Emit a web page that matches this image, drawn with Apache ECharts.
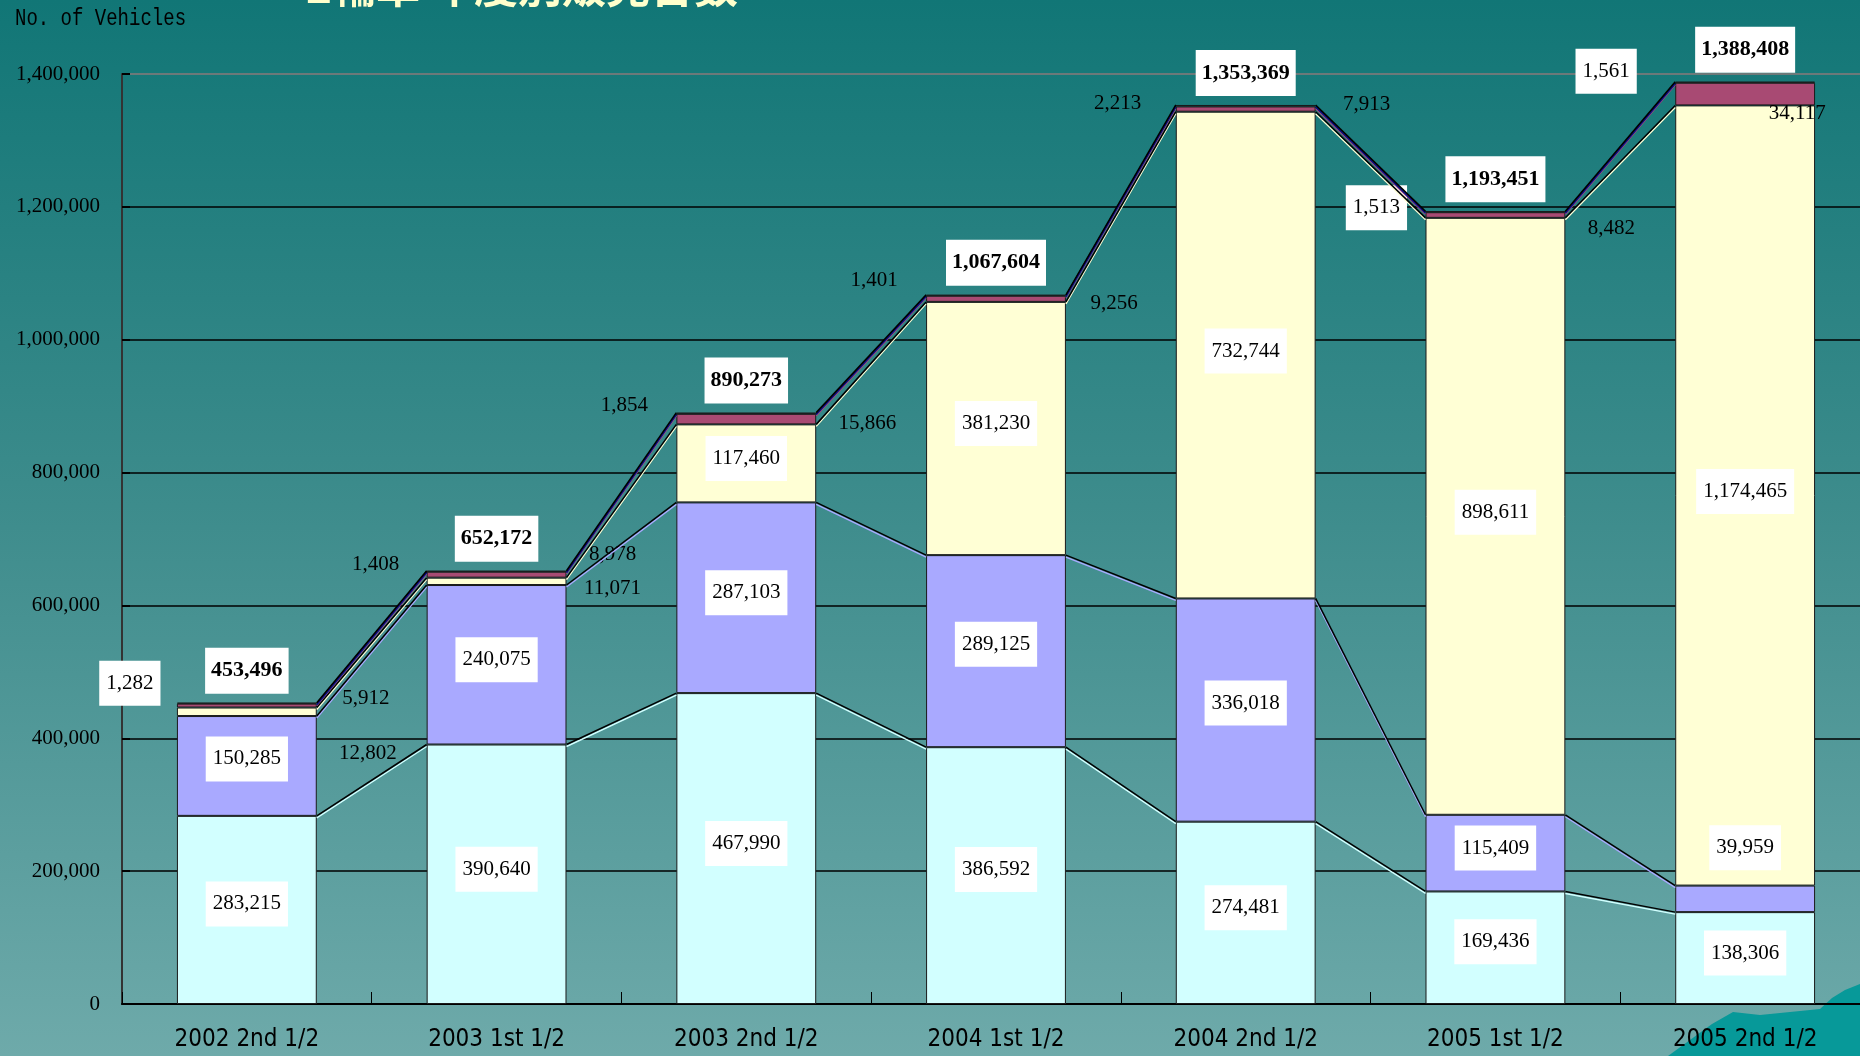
<!DOCTYPE html>
<html>
<head>
<meta charset="utf-8">
<title>No. of Vehicles</title>
<script src="https://cdn.jsdelivr.net/npm/echarts@6/dist/echarts.min.js"></script>
<style>
  html, body { margin: 0; padding: 0; overflow: hidden; }
  /* the plot runs past the right edge of the slide, as in the original */
  #chart { width: 1872px; height: 1056px; }
</style>
</head>
<body>
<div id="chart"></div>
<script>
  // categories (half years)
  const categories = ['2002 2nd 1/2', '2003 1st 1/2', '2003 2nd 1/2', '2004 1st 1/2', '2004 2nd 1/2', '2005 1st 1/2', '2005 2nd 1/2'];

  // stacked series, bottom to top
  const seriesA = [283215, 390640, 467990, 386592, 274481, 169436, 138306];
  const seriesB = [150285, 240075, 287103, 289125, 336018, 115409, 39959];
  const seriesC = [12802, 11071, 117460, 381230, 732744, 898611, 1174465];
  const seriesD = [5912, 8978, 15866, 9256, 7913, 8482, 34117];
  const seriesE = [1282, 1408, 1854, 1401, 2213, 1513, 1561];

  // totals printed above each column
  const totals = [453496, 652172, 890273, 1067604, 1353369, 1193451, 1388408];

  // y axis ticks
  const yMin = 0;
  const yMax = 1400000;
  const yStep = 200000;

  const stackData = [seriesA, seriesB, seriesC, seriesD, seriesE];
  const colors = ['#d2ffff', '#a9a9ff', '#ffffd5', '#a84a73', '#08108a'];

  // label placement: [dx, dy, whiteBox] relative to the segment centre
  const labelPlace = [
    [[0, -6, 1], [0, -5, 1], [0, -5, 1], [0, -6, 1], [0, -5, 1], [0, -6, 1], [0, -5, 1]],
    [[0, -7, 1], [0, -5, 1], [0, -5, 1], [0, -7, 1], [0, -7, 1], [0, -5, 1], [0, -51, 1]],
    [[121, 42, 0], [116, 7, 0], [0, -5, 1], [0, -5, 1], [0, -4, 1], [0, -4, 1], [0, -4, 1]],
    [[119, -7, 0], [116, -20, 0], [121, 4, 0], [118, 5, 0], [121, -5, 0], [116, 13, 0], [52, 19, 0]],
    [[-117, -20, 1], [-121, -7, 0], [-122, -8, 0], [-122, -15, 0], [-128, -2, 0], [-119, -4, 1], [-139, -11, 1]]
  ];

  const fmt = v => Number(v).toLocaleString('en-US');
  const BAR_RATIO = 0.56;

  let chart = echarts.init(document.getElementById('chart'));

  // bar series
  let barSeries = stackData.map((arr, si) => ({
    name: 's' + si,
    type: 'bar',
    stack: 'total',
    barWidth: (BAR_RATIO * 100) + '%',
    itemStyle: { color: colors[si], borderColor: '#1a1a1a', borderWidth: 1 },
    emphasis: { disabled: true },
    data: arr.map((v, ci) => {
      const p = labelPlace[si][ci];
      return {
        value: v,
        label: {
          show: true,
          position: 'inside',
          offset: [p[0], p[1]],
          formatter: fmt(v),
          color: '#000',
          fontFamily: 'Liberation Serif',
          fontSize: 21,
          backgroundColor: p[2] ? '#ffffff' : 'transparent',
          padding: p[2] ? [12, 7] : 0
        }
      };
    }),
    z: 2
  }));

  // series lines between the columns
  let linkData = [];
  for (let k = 0; k < categories.length - 1; k++) {
    let row = [k];
    let acc = 0;
    stackData.forEach(arr => { acc += arr[k]; row.push(acc); });
    acc = 0;
    stackData.forEach(arr => { acc += arr[k + 1]; row.push(acc); });
    linkData.push(row);
  }

  let linkSeries = {
    type: 'custom',
    data: linkData,
    encode: { x: 0, y: 1 },
    z: 3,
    silent: true,
    renderItem: function (params, api) {
      const half = api.size([1, 0])[0] * BAR_RATIO / 2;
      const k = api.value(0);
      let children = [];
      for (let i = 0; i < 5; i++) {
        const a = api.coord([k, api.value(1 + i)]);
        const b = api.coord([k + 1, api.value(6 + i)]);
        children.push({
          type: 'line',
          shape: { x1: a[0] + half, y1: a[1] + 2, x2: b[0] - half, y2: b[1] + 2 },
          style: { stroke: colors[i], lineWidth: 1.4 }
        });
        children.push({
          type: 'line',
          shape: { x1: a[0] + half, y1: a[1], x2: b[0] - half, y2: b[1] },
          style: { stroke: '#000', lineWidth: 1.5 }
        });
      }
      return { type: 'group', children: children };
    }
  };

  // totals above the columns
  let totalSeries = {
    type: 'scatter',
    data: totals,
    symbolSize: 0,
    z: 5,
    itemStyle: { opacity: 1 },
    emphasis: { disabled: true },
    label: {
      show: true,
      position: 'inside',
      offset: [0, -32],
      formatter: p => fmt(p.value),
      color: '#000',
      fontFamily: 'Liberation Serif',
      fontWeight: 'bold',
      fontSize: 22,
      backgroundColor: '#ffffff',
      padding: [12, 6]
    }
  };

  let option = {
    animation: false,
    graphic: [
      {
        type: 'rect', z: -100, silent: true,
        shape: { x: 0, y: 0, width: 1872, height: 1056 },
        style: {
          fill: {
            type: 'linear', x: 0, y: 0, x2: 0, y2: 1,
            colorStops: [
              { offset: 0, color: '#117676' },
              { offset: 0.5, color: '#3f8d8d' },
              { offset: 1, color: '#6eaaaa' }
            ]
          }
        }
      },
      {
        type: 'polygon', z: -90, silent: true,
        shape: {
          points: [[1668, 1056], [1690, 1040], [1712, 1024], [1733, 1012], [1760, 1015],
                   [1790, 1012], [1820, 1009], [1832, 998], [1845, 990], [1860, 984], [1872, 980], [1872, 1056]]
        },
        style: { fill: '#079999' }
      },
      {
        type: 'text', left: 306, top: -36, silent: true,
        style: {
          text: '2輪車 年度別販売台数',
          font: 'bold 44px "Noto Sans CJK JP"',
          fill: '#ffffcc',
          textShadowColor: '#000',
          textShadowOffsetX: 3,
          textShadowOffsetY: 3,
          textShadowBlur: 0
        }
      },
      {
        type: 'text', x: 15, y: 6, scaleY: 1.3, silent: true,
        style: { text: 'No. of Vehicles', font: '19px "Liberation Mono"', fill: '#000' }
      }
    ],
    grid: { left: 122, top: 74, width: 1748, height: 930 },
    xAxis: {
      type: 'category',
      data: categories,
      axisLine: { lineStyle: { color: '#000', width: 2 } },
      axisTick: { show: true, inside: true, length: 12, lineStyle: { color: '#000' } },
      axisLabel: {
        color: '#000',
        fontFamily: '"DejaVu Sans Condensed"',
        fontSize: 24,
        margin: 24
      }
    },
    yAxis: {
      type: 'value',
      min: yMin,
      max: yMax,
      interval: yStep,
      axisLine: { show: true, lineStyle: { color: '#333', width: 2 } },
      axisTick: { show: true, inside: true, length: 8, lineStyle: { color: '#000', width: 2 } },
      axisLabel: {
        color: '#000',
        fontFamily: 'Liberation Serif',
        fontSize: 21,
        margin: 22,
        formatter: v => fmt(v)
      },
      splitLine: {
        show: true,
        lineStyle: { color: ['#000', '#000', '#000', '#000', '#000', '#000', '#000', '#8a7a7a'], width: 1.5 }
      }
    },
    series: barSeries.concat([linkSeries, totalSeries])
  };

  chart.setOption(option);
</script>
</body>
</html>
